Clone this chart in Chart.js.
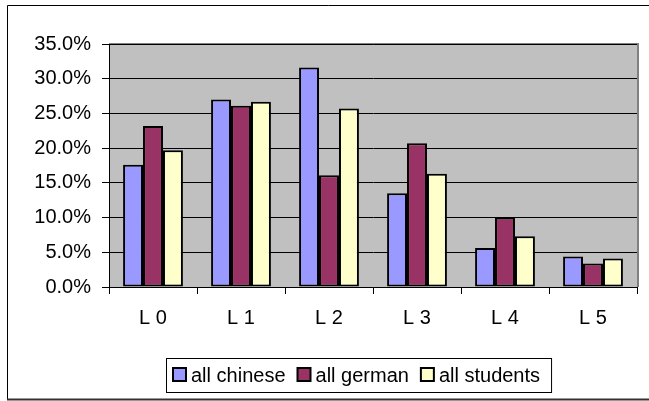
<!DOCTYPE html>
<html>
<head>
<meta charset="utf-8">
<script src="https://cdn.jsdelivr.net/npm/chart.js@4/dist/chart.umd.min.js"></script>
<style>
  html, body { margin: 0; padding: 0; background: #fff; }
  #wrap { width: 649px; height: 401px; position: relative; }
</style>
</head>
<body>
<div id="wrap"><canvas id="c" width="649" height="401"></canvas></div>
<script>
// Level categories and share of each group per level (percent)
const levels = ['L 0', 'L 1', 'L 2', 'L 3', 'L 4', 'L 5'];
const allChinese = [17.6, 27.0, 31.6, 13.5, 5.6, 4.4];
const allGerman = [23.2, 26.1, 16.1, 20.7, 10.0, 3.4];
const allStudents = [19.7, 26.7, 25.7, 16.3, 7.3, 4.1];
const seriesNames = ['all chinese', 'all german', 'all students'];
const yTicks = [0, 5, 10, 15, 20, 25, 30, 35];

const FONT = 'Arial, "Liberation Sans", sans-serif';
const FONT_SIZE = 20;
const colors = ['#9999FF', '#993366', '#FFFFCC'];

// Grey plot background, plot frame, outer chart frame and boxed legend
const decor = {
  id: 'decor',
  beforeDraw(chart) {
    const { ctx, chartArea: a } = chart;
    ctx.save();
    ctx.fillStyle = '#fff';
    ctx.fillRect(0, 0, chart.width, chart.height);
    ctx.fillStyle = '#C0C0C0';
    ctx.fillRect(a.left, a.top, a.right - a.left, a.bottom - a.top);
    // top and right frame of the plot
    ctx.strokeStyle = '#808080';
    ctx.lineWidth = 2;
    ctx.beginPath();
    ctx.moveTo(a.left, a.top);
    ctx.lineTo(a.right + 1, a.top);
    ctx.lineTo(a.right + 1, a.bottom);
    ctx.stroke();
    // outer frame
    ctx.strokeStyle = '#000';
    ctx.lineWidth = 1;
    ctx.beginPath();
    ctx.moveTo(660, 5.5);
    ctx.lineTo(7.5, 5.5);
    ctx.lineTo(7.5, 399);
    ctx.stroke();
    ctx.strokeStyle = '#333';
    ctx.lineWidth = 2;
    ctx.beginPath();
    ctx.moveTo(7, 399.5);
    ctx.lineTo(660, 399.5);
    ctx.stroke();
    ctx.restore();
  },
  afterDraw(chart) {
    const { ctx } = chart;
    ctx.save();
    ctx.font = FONT_SIZE + 'px ' + FONT;
    ctx.textBaseline = 'middle';
    const boxL = 166, boxT = 358, boxH = 34;
    const padL = 7, padR = 11, gap = 12;
    const cy = boxT + boxH / 2;
    const parts = chart.data.datasets.map(ds => ({
      label: ds.label, color: ds.backgroundColor, w: ctx.measureText(ds.label).width
    }));
    let inner = 0;
    parts.forEach((p, i) => { inner += 18 + p.w + (i < parts.length - 1 ? gap : 0); });
    const boxW = padL + inner + padR;
    ctx.fillStyle = '#fff';
    ctx.fillRect(boxL, boxT, boxW, boxH);
    ctx.strokeStyle = '#000';
    ctx.lineWidth = 1;
    ctx.strokeRect(boxL + 0.5, boxT + 0.5, boxW, boxH);
    let x = boxL + padL;
    parts.forEach(p => {
      ctx.fillStyle = p.color;
      ctx.fillRect(x, cy - 7, 13, 13);
      ctx.lineWidth = 2;
      ctx.strokeRect(x, cy - 7, 13, 13);
      x += 18;
      ctx.fillStyle = '#000';
      ctx.fillText(p.label, x, cy + 1);
      x += p.w + gap;
    });
    ctx.restore();
  }
};

new Chart(document.getElementById('c'), {
  type: 'bar',
  data: {
    labels: levels,
    datasets: [allChinese, allGerman, allStudents].map((d, i) => ({
      label: seriesNames[i],
      data: d,
      backgroundColor: colors[i],
      borderColor: '#000',
      borderWidth: 2,
      borderSkipped: false,
      categoryPercentage: 0.68,
      barPercentage: 1.0
    }))
  },
  options: {
    responsive: false,
    animation: false,
    devicePixelRatio: 1,
    layout: { padding: { top: 44, right: 12, bottom: 0, left: 0 } },
    plugins: { legend: { display: false }, tooltip: { enabled: false } },
    scales: {
      x: {
        grid: { display: true, drawOnChartArea: false, drawTicks: true, tickLength: 7, color: '#000', offset: true },
        border: { color: '#000', width: 1 },
        ticks: { color: '#000', font: { family: FONT, size: FONT_SIZE }, padding: 12 },
        afterFit(s) { s.height = 401 - 287; }
      },
      y: {
        min: 0, max: 35,
        afterBuildTicks(s) { s.ticks = yTicks.map(v => ({ value: v })); },
        grid: { color: '#000', lineWidth: 1, tickLength: 7 },
        border: { color: '#000', width: 1 },
        ticks: { color: '#000', font: { family: FONT, size: FONT_SIZE }, padding: 11,
                 callback: v => v.toFixed(1) + '%' },
        afterFit(s) { s.width = 109; }
      }
    }
  },
  plugins: [decor]
});
</script>
</body>
</html>
